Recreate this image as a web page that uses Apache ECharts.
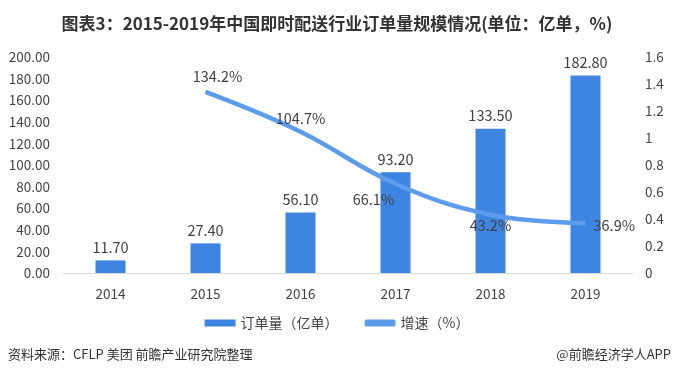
<!DOCTYPE html>
<html>
<head>
<meta charset="utf-8">
<script src="https://cdn.jsdelivr.net/npm/echarts@6/dist/echarts.min.js"></script>
<style>
  html, body { margin: 0; padding: 0; background: #fff; }
  #chart { width: 674px; height: 377px; }
</style>
</head>
<body>
<div id="chart"></div>
<script>
const years = ["2014", "2015", "2016", "2017", "2018", "2019"];
const orders = [11.7, 27.4, 56.1, 93.2, 133.5, 182.8];
const growth = [null, 1.342, 1.047, 0.661, 0.432, 0.369];
// label placement around each growth point: [position, dx, dy]
const growthLabelPos = [
  null,
  ["top", 12, 0],
  ["top", 0, 2],
  ["bottom", -22, 0],
  ["bottom", 0, -4],
  ["right", 0, 2],
];

const font = "'Microsoft YaHei', 'Noto Sans CJK SC', sans-serif";
const mc = echarts.init(document.getElementById("chart"));

const option = {
  animation: false,
  textStyle: { fontFamily: font },
  title: {
    text: "图表3：2015-2019年中国即时配送行业订单量规模情况(单位：亿单，%)",
    left: "center",
    top: 10,
    textStyle: { fontSize: 17, fontWeight: "bold", color: "#333", fontFamily: font },
  },
  legend: {
    bottom: 42,
    left: "center",
    itemWidth: 31,
    itemHeight: 7,
    itemGap: 26,
    textStyle: { fontSize: 14, color: "#444" },
    data: [
      { name: "订单量（亿单）", icon: "rect" },
      { name: "增速（%）", icon: "roundRect" },
    ],
  },
  grid: { left: 63, right: 41, top: 57, bottom: 104 },
  xAxis: {
    type: "category",
    data: years,
    axisTick: { show: false },
    axisLine: { lineStyle: { color: "#d9d9d9" } },
    axisLabel: { color: "#444", fontSize: 13.5, margin: 14 },
  },
  yAxis: [
    {
      type: "value",
      min: 0,
      max: 200,
      interval: 20,
      splitLine: { show: false },
      axisLabel: {
        color: "#444",
        fontSize: 13.5,
        margin: 13,
        formatter: (v) => v.toFixed(2),
      },
    },
    {
      type: "value",
      min: 0,
      max: 1.6,
      interval: 0.2,
      splitLine: { show: false },
      axisLabel: { color: "#444", fontSize: 13.5, margin: 12 },
    },
  ],
  series: [
    {
      name: "订单量（亿单）",
      type: "bar",
      data: orders,
      barWidth: 30,
      itemStyle: { color: "#3d85e0" },
      label: {
        show: true,
        position: "top",
        color: "#404040",
        fontSize: 14.5,
        distance: 6,
        formatter: (p) => p.value.toFixed(2),
      },
    },
    {
      name: "增速（%）",
      type: "line",
      yAxisIndex: 1,
      smooth: 0.4,
      symbol: "circle",
      symbolSize: 0,
      showSymbol: true,
      data: growth.map((v, i) => {
        const lp = growthLabelPos[i];
        return lp
          ? { value: v, label: { position: lp[0], offset: [lp[1], lp[2]] } }
          : { value: v };
      }),
      lineStyle: { color: "#5b9cec", width: 4.5 },
      itemStyle: { color: "#5b9cec" },
      label: {
        show: true,
        color: "#404040",
        fontSize: 14.5,
        distance: 8,
        formatter: (p) => (p.value * 100).toFixed(1) + "%",
      },
    },
  ],
  graphic: [
    {
      type: "text",
      left: 8,
      top: 348,
      style: { text: "资料来源：CFLP 美团 前瞻产业研究院整理", fontSize: 13, fill: "#333", fontFamily: font },
    },
    {
      type: "text",
      right: 3,
      top: 348,
      style: { text: "@前瞻经济学人APP", fontSize: 13, fill: "#333", fontFamily: font },
    },
  ],
};
mc.setOption(option);
</script>
</body>
</html>
